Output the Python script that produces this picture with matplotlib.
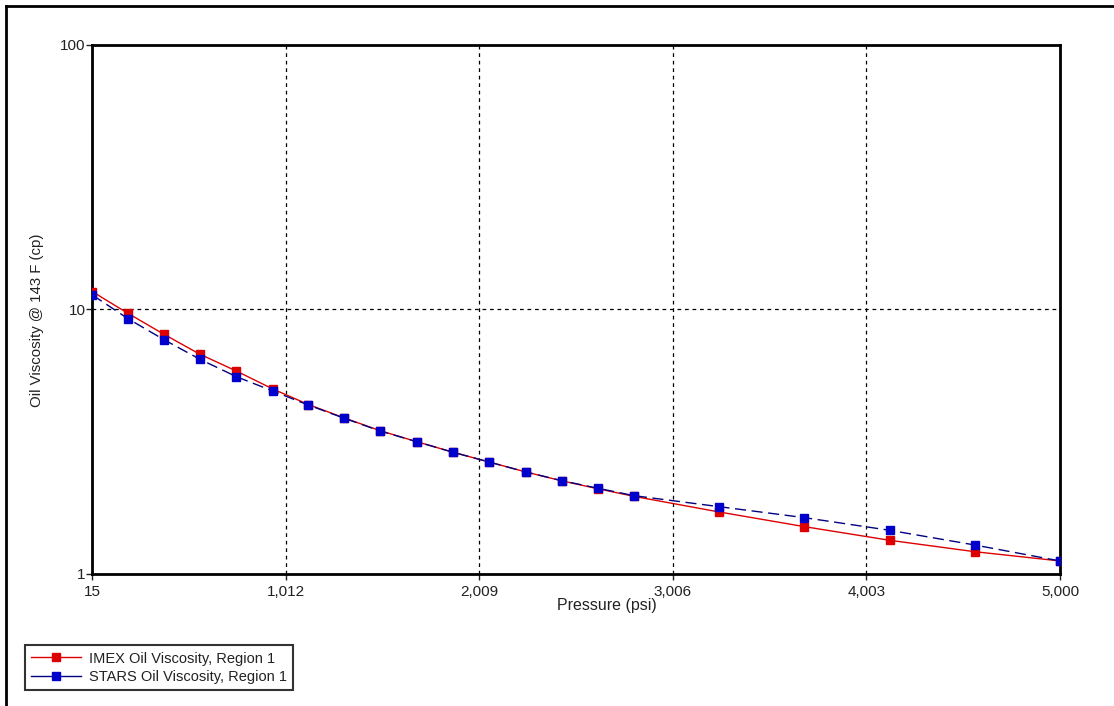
import matplotlib
matplotlib.use("Agg")
import matplotlib.pyplot as plt
from matplotlib.lines import Line2D
from matplotlib.ticker import FixedLocator, NullLocator, FuncFormatter

plt.rcParams['font.family'] = ['Liberation Sans', 'DejaVu Sans']

pressure = [15, 198, 383, 569, 757, 943, 1128, 1312, 1498, 1688, 1873, 2059,
            2248, 2433, 2619, 2806, 3243, 3683, 4122, 4561, 5000]
imex_visc = [11.67, 9.67, 8.06, 6.77, 5.85, 5.01, 4.37, 3.89, 3.48, 3.16, 2.885, 2.65,
             2.43, 2.25, 2.10, 1.965, 1.716, 1.51, 1.341, 1.214, 1.12]
stars_visc = [11.34, 9.23, 7.69, 6.48, 5.57, 4.92, 4.35, 3.88, 3.47, 3.16, 2.885, 2.65,
              2.43, 2.253, 2.109, 1.977, 1.797, 1.633, 1.463, 1.287, 1.12]
x_ticks = [15, 1012, 2009, 3006, 4003, 5000]
y_ticks = [1, 10, 100]

fig = plt.figure(figsize=(11.14, 7.06), dpi=100)
ax = fig.add_axes([0.0830, 0.1870, 0.8685, 0.7493])

red = '#dd0000'
blue = '#0000cc'
ax.plot(pressure, imex_visc, color=red, lw=1.0, marker='s', ms=5.5,
        markerfacecolor=red, markeredgecolor=red, zorder=3)
ax.plot(pressure, stars_visc, color='#000080', lw=1.0, ls=(0, (8, 4)), marker='s', ms=5.5,
        markerfacecolor=blue, markeredgecolor=blue, zorder=4)

ax.set_yscale('log')
ax.set_xlim(15, 5000)
ax.set_ylim(1, 100)
ax.xaxis.set_major_locator(FixedLocator(x_ticks))
ax.xaxis.set_major_formatter(FuncFormatter(lambda v, p: f"{int(round(v)):,}"))
ax.yaxis.set_major_locator(FixedLocator(y_ticks))
ax.yaxis.set_major_formatter(FuncFormatter(lambda v, p: f"{int(round(v))}"))
ax.yaxis.set_minor_locator(NullLocator())
ax.xaxis.set_minor_locator(NullLocator())

ax.grid(True, which='major', color='black', ls=(0, (3, 3)), lw=0.9, zorder=1)
for s in ax.spines.values():
    s.set_linewidth(2.0)
ax.tick_params(axis='both', direction='out', length=4, width=1, labelsize=11,
               colors='#222222')
ax.tick_params(axis='x', pad=4)
ax.tick_params(axis='y', pad=1)

ax.set_xlabel('Pressure (psi)', fontsize=11.5, color='#222222')
ax.xaxis.set_label_coords((607 - 92.5) / 967.5, (574 - 606) / 529.0)
ax.xaxis.label.set_va('center')
ax.set_ylabel('Oil Viscosity @ 143 F (cp)', fontsize=10.8, color='#222222')
ax.yaxis.set_label_coords((37 - 92.5) / 967.5, (574 - 320) / 529.0)
ax.yaxis.label.set_va('center')

handles = [Line2D([], [], color=red, lw=1.0, marker='s', ms=5.5,
                  markerfacecolor=red, markeredgecolor=red),
           Line2D([], [], color='#000080', lw=1.0, marker='s', ms=5.5,
                  markerfacecolor=blue, markeredgecolor=blue)]
leg = fig.legend(handles, ['IMEX Oil Viscosity, Region 1', 'STARS Oil Viscosity, Region 1'],
                 loc='lower left', bbox_to_anchor=(25 / 1114, 1 - 690 / 706), fontsize=10.5,
                 frameon=True, fancybox=False, edgecolor='black', borderpad=0.42,
                 handlelength=3.4, handletextpad=0.55, labelspacing=0.3,
                 borderaxespad=0)
leg.get_frame().set_linewidth(1.5)
for t in leg.get_texts():
    t.set_color('#222222')

# outer frame
fig.add_artist(Line2D([6/1114, 1.0], [1 - 6/706, 1 - 6/706], transform=fig.transFigure,
                      color='black', lw=2))
fig.add_artist(Line2D([6/1114, 6/1114], [0, 1 - 6/706], transform=fig.transFigure,
                      color='black', lw=2))

fig.savefig('out.png', dpi=100)
